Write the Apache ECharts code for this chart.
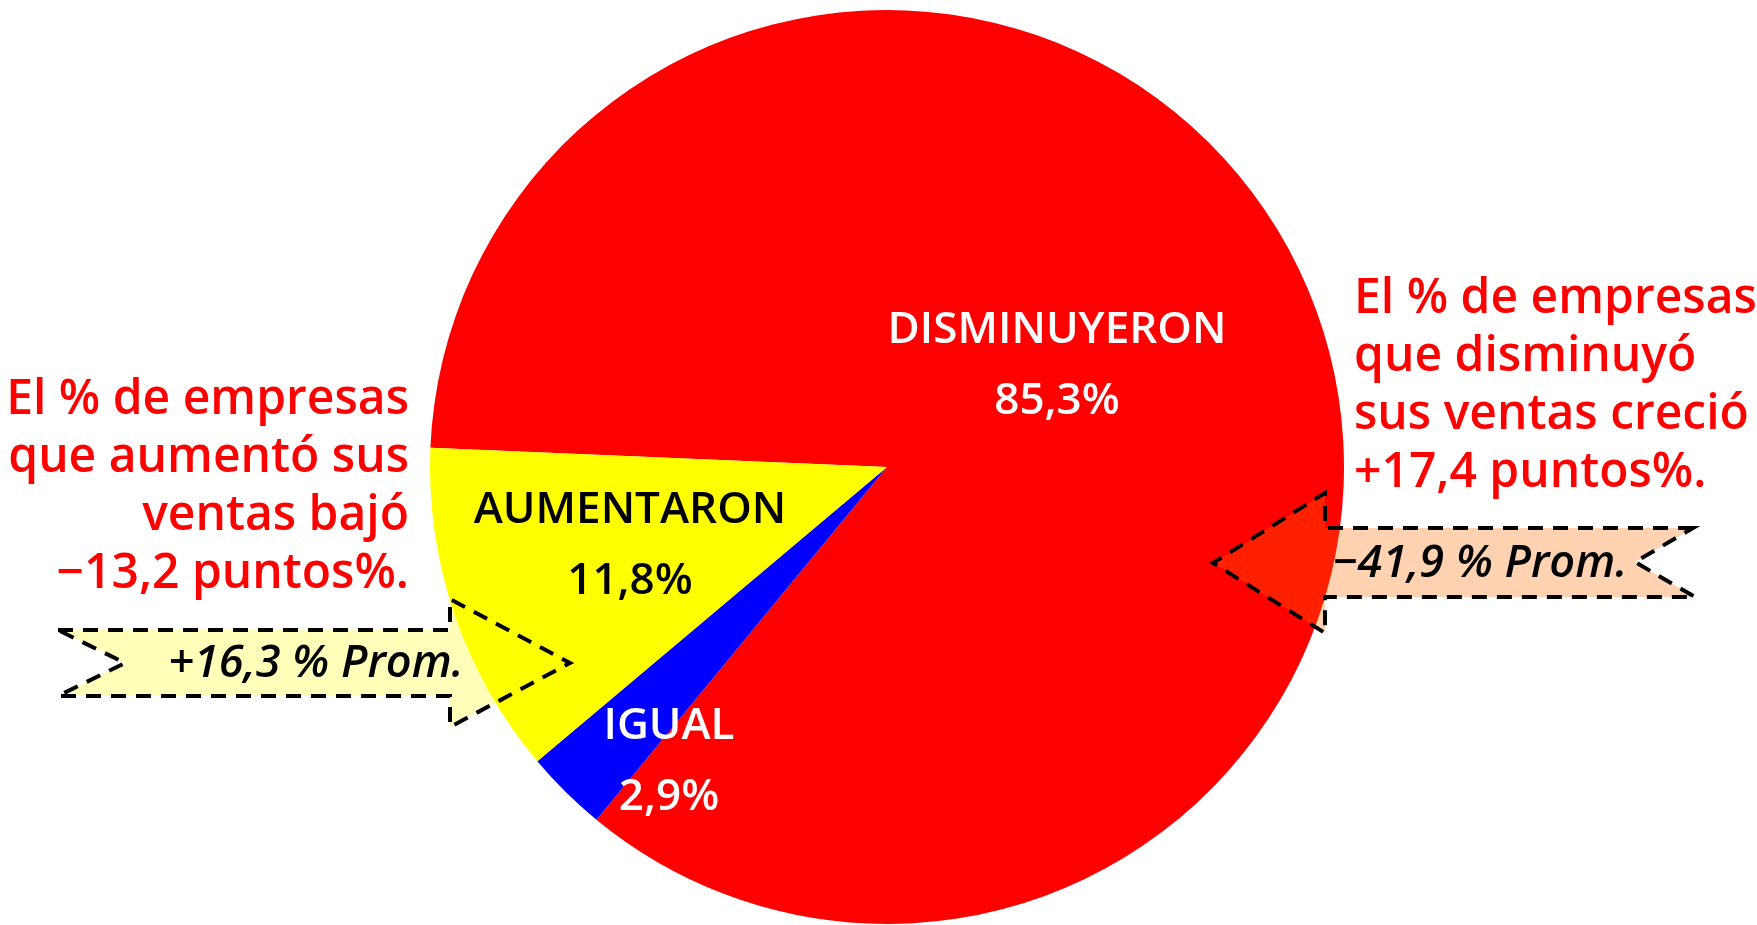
<!DOCTYPE html>
<html>
<head>
<meta charset="utf-8">
<script src="https://cdn.jsdelivr.net/npm/echarts@6/dist/echarts.min.js"></script>
<style>
html,body{margin:0;padding:0;background:#fff;}
#chart{width:1757px;height:925px;}
</style>
</head>
<body>
<div id="chart"></div>
<script>
// ---- data ----
const categories = ['DISMINUYERON', 'IGUAL', 'AUMENTARON'];
const values = [85.3, 2.9, 11.8];
const sliceColors = ['#FF0000', '#0000FF', '#FFFF00'];
const labelColors = ['#FFFFFF', '#FFFFFF', '#000000'];
const leftNote = ['El % de empresas', 'que aumentó sus', 'ventas bajó', '\u221213,2 puntos%.'];
const rightNote = ['El % de empresas', 'que disminuyó', 'sus ventas creció', '+17,4 puntos%.'];
const leftArrowText = '+16,3 % Prom.';
const rightArrowText = '\u221241,9 % Prom.';

// ---- layout ----
const FONT = '"Open Sans", "Noto Sans", sans-serif';
const LABEL_POS = [[1057, 366], [669, 762], [630, 546]];
const leftArrowPts = [[58,630],[450,630],[450,599],[570,663],[450,727],[450,696],[58,696],[125,663]];
const rightArrowPts = [[1693,528],[1325,528],[1325,493],[1213,563],[1325,633],[1325,597],[1695,597],[1635,562]];

const fmt = v => String(v).replace('.', ',') + '%';

const chart = echarts.init(document.getElementById('chart'), null, {renderer: 'canvas'});
chart.setOption({
  animation: false,
  backgroundColor: '#ffffff',
  series: [{
    type: 'pie',
    center: [887, 467],
    radius: 457,
    startAngle: 177.6,
    clockwise: true,
    avoidLabelOverlap: false,
    itemStyle: {borderWidth: 0},
    emphasis: {disabled: true},
    data: categories.map((c, i) => ({
      name: c,
      value: values[i],
      itemStyle: {color: sliceColors[i]},
      label: {color: labelColors[i]}
    })),
    label: {
      show: true,
      position: 'inside',
      formatter: p => p.name + '\n' + fmt(p.value),
      fontFamily: FONT,
      fontSize: 44,
      fontWeight: 600,
      lineHeight: 71,
      align: 'center'
    },
    labelLine: {show: false},
    labelLayout: p => ({
      x: LABEL_POS[p.dataIndex][0],
      y: LABEL_POS[p.dataIndex][1],
      align: 'center',
      verticalAlign: 'middle'
    })
  }],
  graphic: [
    {
      type: 'polygon', z: 100,
      shape: {points: leftArrowPts},
      style: {fill: 'rgba(255,255,0,0.27)', stroke: '#000', lineWidth: 4, lineDash: [15, 10]}
    },
    {
      type: 'polygon', z: 100,
      shape: {points: rightArrowPts},
      style: {fill: 'rgba(255,106,0,0.3)', stroke: '#000', lineWidth: 4, lineDash: [15, 10]}
    },
    {
      type: 'text', z: 101, x: 316, y: 664,
      style: {text: leftArrowText, font: 'italic 600 45px ' + FONT, fill: '#000', align: 'center', verticalAlign: 'middle'}
    },
    {
      type: 'text', z: 101, x: 1480, y: 564,
      style: {text: rightArrowText, font: 'italic 600 45px ' + FONT, fill: '#000', align: 'center', verticalAlign: 'middle'}
    },
    {
      type: 'text', z: 101, x: 409, y: 487,
      style: {text: leftNote.join('\n'), font: '600 48px ' + FONT, fill: '#FF0000', align: 'right', verticalAlign: 'middle', lineHeight: 58}
    },
    {
      type: 'text', z: 101, x: 1354, y: 386,
      style: {text: rightNote.join('\n'), font: '600 48px ' + FONT, fill: '#FF0000', align: 'left', verticalAlign: 'middle', lineHeight: 58}
    }
  ]
});
</script>
</body>
</html>
